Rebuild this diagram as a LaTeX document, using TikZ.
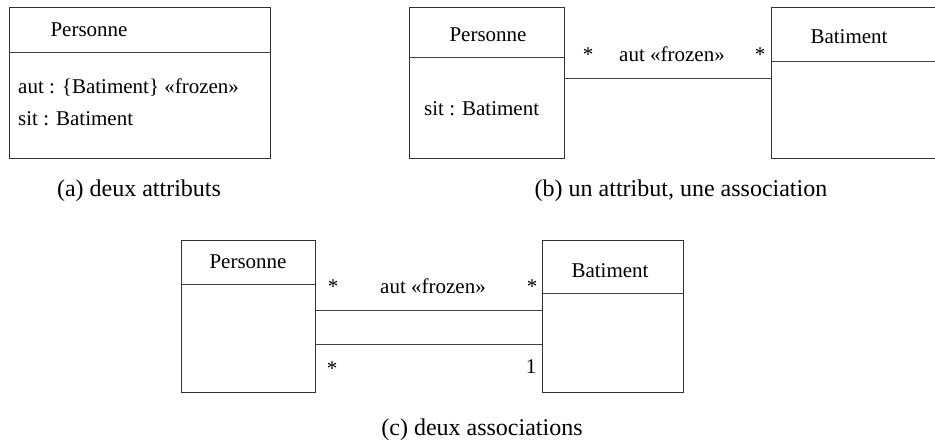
\documentclass[tikz,border=0pt]{standalone}
\usepackage{fontspec}
\setmainfont{Liberation Serif}
\begin{document}
\begin{tikzpicture}[x=1pt,y=-1pt,
  classbox/.style={draw=black!80,line width=0.9pt,rectangle,anchor=north west,inner sep=0pt,outer sep=0pt},
  divider/.style={draw=black!75,line width=0.9pt},
  assoc/.style={draw=black!75,line width=0.9pt},
  txt/.style={anchor=base,inner sep=0pt,font=\fontsize{21}{25}\selectfont},
  ltxt/.style={anchor=base west,inner sep=0pt,font=\fontsize{21}{25}\selectfont},
  caption/.style={anchor=base,inner sep=0pt,font=\fontsize{24}{28}\selectfont}]
\useasboundingbox (0,0) rectangle (935,443);
% ---------- (a)
\node[classbox,minimum width=261pt,minimum height=151pt] (pa) at (9,7) {};
\draw[divider] (9,52) -- (270,52);
\node[txt] (pan) at (89,37) {Personne};
\node[ltxt] (pa1) at (18,94) {aut : \{Batiment\} «frozen»};
\node[ltxt] (pa2) at (18,126) {sit : Batiment};
\node[caption] (capa) at (139,197) {(a) deux attributs};
% ---------- (b)
\node[classbox,minimum width=155pt,minimum height=151pt] (pb) at (409,7) {};
\draw[divider] (409,57) -- (564,57);
\node[txt] (pbn) at (488,42) {Personne};
\node[ltxt] (pb1) at (424,116) {sit : Batiment};
\node[classbox,minimum width=200pt,minimum height=151pt] (bb) at (771,7) {};
\draw[divider] (771,61) -- (971,61);
\node[txt] (bbn) at (849,44) {Batiment};
\coordinate (yb) at (0,78);
\draw[assoc] (pb.east |- yb) -- (bb.west |- yb);
\node[txt] (mb1) at (588,62) {*};
\node[txt] (lb) at (672,62) {aut «frozen»};
\node[txt] (mb2) at (760,62) {*};
\node[caption] (capb) at (681,197) {(b) un attribut, une association};
% ---------- (c)
\node[classbox,minimum width=134pt,minimum height=152pt] (pc) at (181,240) {};
\draw[divider] (181,284) -- (315,284);
\node[txt] (pcn) at (248,269) {Personne};
\node[classbox,minimum width=141pt,minimum height=152pt] (bc) at (542,240) {};
\draw[divider] (542,293) -- (684,293);
\node[txt] (bcn) at (610,278) {Batiment};
\coordinate (yc1) at (0,310);
\coordinate (yc2) at (0,344);
\draw[assoc] (pc.east |- yc1) -- (bc.west |- yc1);
\draw[assoc] (pc.east |- yc2) -- (bc.west |- yc2);
\node[txt] (mc1) at (333,294) {*};
\node[txt] (lc) at (433,294) {aut «frozen»};
\node[txt] (mc2) at (532,294) {*};
\node[txt] (mc3) at (332,376) {*};
\node[txt] (mc4) at (531,374) {1};
\node[caption] (capc) at (482,436) {(c) deux associations};
\end{tikzpicture}
\end{document}
